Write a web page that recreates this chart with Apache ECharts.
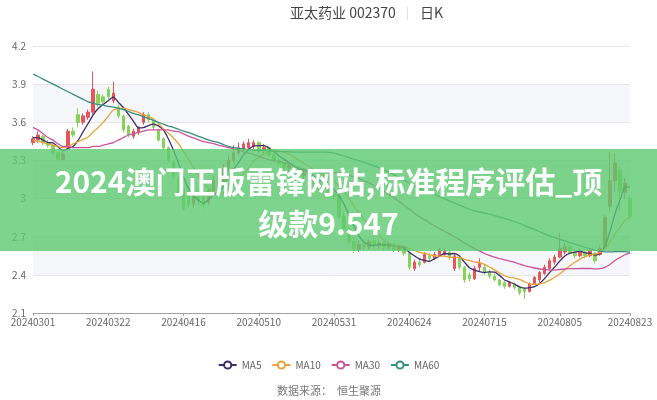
<!DOCTYPE html>
<html><head><meta charset="utf-8">
<script src="https://cdn.jsdelivr.net/npm/echarts@6/dist/echarts.min.js"></script>
<style>html,body{margin:0;padding:0;background:#fff}#c{width:657px;height:400px}</style>
</head><body><div id="c"></div>
<script>
const dates = ['20240301','20240304','20240305','20240306','20240307','20240308','20240311','20240312','20240313','20240314','20240315','20240318','20240319','20240320','20240321','20240322','20240325','20240326','20240327','20240328','20240329',
'20240401','20240402','20240403','20240408','20240409','20240410','20240411','20240412','20240415','20240416','20240417','20240418','20240419','20240422','20240423','20240424','20240425','20240426','20240429','20240430',
'20240506','20240507','20240508','20240509','20240510','20240513','20240514','20240515','20240516','20240517','20240520','20240521','20240522','20240523','20240524','20240527','20240528','20240529','20240530','20240531',
'20240603','20240604','20240605','20240606','20240607','20240611','20240612','20240613','20240614','20240617','20240618','20240619','20240620','20240621','20240624','20240625','20240626','20240627','20240628',
'20240701','20240702','20240703','20240704','20240705','20240708','20240709','20240710','20240711','20240712','20240715','20240716','20240717','20240718','20240719','20240722','20240723','20240724','20240725','20240726','20240729','20240730','20240731',
'20240801','20240802','20240805','20240806','20240807','20240808','20240809','20240812','20240813','20240814','20240815','20240816','20240819','20240820','20240821','20240822','20240823'];

const opens = [3.44,3.46,3.49,3.44,3.42,3.36,3.31,3.40,3.53,3.66,
3.60,3.64,3.68,3.82,3.80,3.86,3.77,3.72,3.65,3.57,
3.49,3.52,3.60,3.66,3.61,3.54,3.47,3.40,3.29,3.16,
3.08,3.06,2.96,3.02,3.04,2.97,3.06,3.14,3.13,3.24,
3.30,3.36,3.39,3.40,3.41,3.44,3.38,3.40,3.34,3.30,
3.28,3.24,3.26,3.22,3.18,3.20,3.15,3.12,3.08,3.10,
3.04,3.02,2.86,2.76,2.66,2.60,2.64,2.62,2.67,2.63,
2.65,2.62,2.64,2.60,2.62,2.57,2.45,2.50,2.50,2.55,
2.53,2.55,2.56,2.58,2.45,2.53,2.46,2.40,2.37,2.46,
2.46,2.42,2.39,2.36,2.34,2.31,2.33,2.30,2.29,2.27,
2.33,2.36,2.41,2.45,2.50,2.54,2.58,2.62,2.58,2.55,
2.58,2.55,2.57,2.56,2.61,2.94,3.14,3.22,3.05,3.00];

const closes = [3.47,3.50,3.44,3.42,3.36,3.31,3.35,3.53,3.50,3.60,
3.65,3.68,3.86,3.75,3.76,3.80,3.83,3.65,3.54,3.50,
3.53,3.56,3.66,3.62,3.56,3.46,3.40,3.30,3.18,3.05,
2.92,2.95,3.02,2.98,2.95,3.06,3.14,3.12,3.24,3.30,
3.36,3.40,3.43,3.44,3.44,3.37,3.40,3.34,3.30,3.27,
3.24,3.26,3.22,3.18,3.20,3.15,3.12,3.08,3.10,3.04,
3.02,2.86,2.76,2.66,2.60,2.64,2.62,2.66,2.63,2.65,
2.62,2.64,2.60,2.62,2.57,2.46,2.50,2.48,2.56,2.53,
2.56,2.60,2.59,2.54,2.55,2.46,2.36,2.37,2.45,2.49,
2.42,2.39,2.36,2.32,2.31,2.34,2.30,2.26,2.27,2.33,
2.38,2.42,2.46,2.51,2.54,2.61,2.62,2.57,2.55,2.58,
2.55,2.59,2.51,2.61,2.85,3.14,3.28,3.06,3.12,2.86];

const lows = [3.42,3.44,3.42,3.40,3.34,3.29,3.30,3.38,3.48,3.56,
3.58,3.62,3.66,3.72,3.74,3.78,3.75,3.63,3.52,3.48,
3.47,3.50,3.58,3.60,3.54,3.45,3.38,3.28,3.16,3.03,
2.90,2.93,2.93,2.95,2.92,2.95,3.04,3.08,3.11,3.20,
3.28,3.34,3.37,3.38,3.39,3.35,3.35,3.32,3.28,3.25,
3.22,3.21,3.20,3.16,3.15,3.13,3.10,3.06,3.05,3.02,
2.99,2.84,2.74,2.64,2.57,2.58,2.59,2.60,2.61,2.61,
2.60,2.60,2.58,2.58,2.55,2.44,2.43,2.46,2.49,2.51,
2.52,2.54,2.55,2.52,2.43,2.44,2.34,2.35,2.36,2.43,
2.40,2.37,2.35,2.31,2.29,2.30,2.28,2.24,2.21,2.26,
2.32,2.34,2.40,2.44,2.48,2.53,2.56,2.56,2.53,2.54,
2.53,2.54,2.49,2.55,2.60,2.90,3.05,2.90,3.00,2.83];

const highs = [3.49,3.53,3.50,3.46,3.43,3.37,3.37,3.55,3.56,3.71,
3.67,3.70,4.00,3.85,3.82,3.88,3.92,3.74,3.66,3.58,
3.55,3.57,3.68,3.68,3.62,3.55,3.48,3.41,3.30,3.18,
3.10,3.08,3.04,3.06,3.06,3.08,3.18,3.20,3.27,3.34,
3.42,3.44,3.45,3.47,3.46,3.45,3.43,3.41,3.36,3.32,
3.29,3.28,3.28,3.24,3.22,3.21,3.17,3.14,3.12,3.11,
3.06,3.04,2.90,2.79,2.70,2.67,2.68,2.68,2.70,2.67,
2.67,2.66,2.66,2.64,2.63,2.58,2.52,2.53,2.58,2.57,
2.58,2.61,2.61,2.59,2.57,2.54,2.47,2.42,2.47,2.53,
2.48,2.44,2.41,2.37,2.35,2.35,2.34,2.31,2.30,2.34,
2.39,2.43,2.48,2.53,2.56,2.73,2.65,2.64,2.60,2.60,
2.59,2.61,2.58,2.63,2.87,3.37,3.36,3.25,3.16,3.02];

// Moving-average values for days whose window starts before 20240301
const ma5Lead = [3.48,3.48,3.46,3.44];
const ma10Lead = [3.46,3.45,3.44,3.43,3.42,3.41,3.40,3.41,3.43];
const ma30Lead = [3.56,3.54,3.51,3.48,3.46,3.43,3.41,3.41,3.40,3.40,3.40,3.40,3.41,3.41,3.42,3.43,3.44,3.46,3.48,3.50,3.51,3.52,3.53,3.54,3.54,3.54,3.54,3.54,3.53];
const ma60Lead = [3.98,3.96,3.94,3.92,3.90,3.88,3.86,3.84,3.82,3.80,
3.78,3.76,3.75,3.74,3.735,3.725,3.72,3.71,3.70,3.685,
3.67,3.66,3.645,3.63,3.615,3.60,3.585,3.57,3.56,3.545,
3.53,3.52,3.505,3.49,3.475,3.46,3.45,3.44,3.425,3.41,
3.40,3.395,3.39,3.385,3.38,3.38,3.378,3.375,3.373,3.37,
3.37,3.368,3.366,3.365,3.365,3.365,3.365,3.365,3.365];

const yTicks = ['2.1','2.4','2.7','3','3.3','3.6','3.9','4.2'];
const legendNames = ['MA5','MA10','MA30','MA60'];

function movingAverage(n, lead) {
  return closes.map((c, i) => {
    if (i < n - 1) return lead[i];
    let s = 0;
    for (let k = i - n + 1; k <= i; k++) s += closes[k];
    return +(s / n).toFixed(3);
  });
}

const kData = dates.map((d, i) => [opens[i], closes[i], lows[i], highs[i]]);
const showIdx = (idx) => idx % 15 === 0 || idx === dates.length - 1;
const FONT = '"Noto Sans CJK SC", "Noto Sans", sans-serif';

const chart = echarts.init(document.getElementById('c'), null, {renderer: 'canvas'});
const lineColors = ['#3b2d6b', '#e8a23a', '#c9549a', '#3a8c7e'];
const maVals = [movingAverage(5, ma5Lead), movingAverage(10, ma10Lead), movingAverage(30, ma30Lead), movingAverage(60, ma60Lead)];

chart.setOption({
  animation: false,
  textStyle: {fontFamily: FONT},
  grid: {left: 33, right: 27, top: 46, bottom: 87},
  legend: {
    data: legendNames, top: 355, left: 'center', itemWidth: 18, itemHeight: 9, itemGap: 10,
    textStyle: {fontSize: 10, color: '#666', fontFamily: FONT}
  },
  xAxis: {
    type: 'category', data: dates, boundaryGap: false,
    axisLine: {lineStyle: {color: '#a0a0a0'}},
    axisTick: {interval: showIdx, length: 3, lineStyle: {color: '#a0a0a0'}},
    axisLabel: {interval: showIdx, color: '#666', fontSize: 10, margin: 4, fontFamily: FONT},
    splitLine: {show: false}
  },
  yAxis: {
    type: 'value', min: 2.1, max: 4.2, interval: 0.3, scale: true,
    axisLine: {show: false}, axisTick: {show: false},
    axisLabel: {color: '#666', fontSize: 10, margin: 7, fontFamily: FONT,
      formatter: v => { const s = String(+v.toFixed(1)); return yTicks.includes(s) ? s : s; }},
    splitLine: {lineStyle: {color: '#e6e6e6'}},
    splitArea: {show: true, areaStyle: {color: ['#ffffff', '#f5f6fa']}}
  },
  series: [
    {
      type: 'candlestick', data: kData, barWidth: 3,
      itemStyle: {color: '#e5555a', color0: '#86d35a', borderColor: '#e5555a', borderColor0: '#86d35a', borderWidth: 1}
    }
  ].concat(legendNames.map((name, k) => ({
    name, type: 'line', data: maVals[k], showSymbol: false, symbol: 'emptyCircle', symbolSize: 7,
    smooth: 0.2, lineStyle: {width: 1.3, color: lineColors[k]}, itemStyle: {color: lineColors[k]}
  }))),
  graphic: [
    {type: 'text', x: 290, y: 13, style: {text: '亚太药业 002370', fill: '#444', fontSize: 14, fontFamily: FONT, align: 'left', verticalAlign: 'middle', textAlign: 'left', textVerticalAlign: 'middle'}},
    {type: 'rect', shape: {x: 407, y: 7, width: 1, height: 13}, style: {fill: '#e0e0e0'}},
    {type: 'text', x: 420, y: 13, style: {text: '日K', fill: '#444', fontSize: 14, fontFamily: FONT, align: 'left', verticalAlign: 'middle', textAlign: 'left', textVerticalAlign: 'middle'}},
    {type: 'text', x: 329, y: 391, style: {text: '数据来源：  恒生聚源', fill: '#777', fontSize: 11, fontFamily: FONT, align: 'center', verticalAlign: 'middle', textAlign: 'center', textVerticalAlign: 'middle'}},
    {type: 'rect', z: 100, shape: {x: 0, y: 149, width: 657, height: 102}, style: {fill: 'rgba(92,201,111,0.8)'}},
    {type: 'text', z: 101, x: 328.5, y: 182, style: {text: '2024澳门正版雷锋网站,标准程序评估_顶', fill: '#ffffff', fontSize: 30, fontWeight: 'bold', fontFamily: FONT, align: 'center', verticalAlign: 'middle', textAlign: 'center', textVerticalAlign: 'middle'}},
    {type: 'text', z: 101, x: 328.5, y: 224, style: {text: '级款9.547', fill: '#ffffff', fontSize: 30, fontWeight: 'bold', fontFamily: FONT, align: 'center', verticalAlign: 'middle', textAlign: 'center', textVerticalAlign: 'middle'}}
  ]
});
</script></body></html>
